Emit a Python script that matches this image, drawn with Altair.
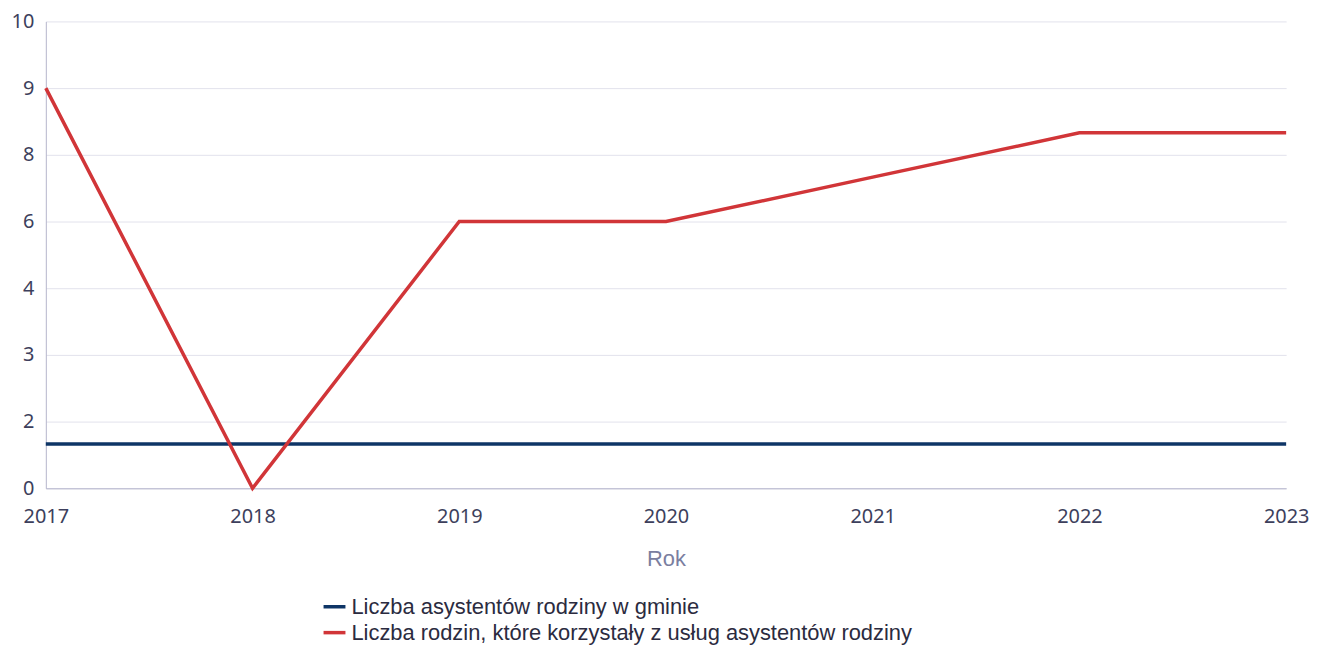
import altair as alt
import pandas as pd

years = [2017, 2018, 2019, 2020, 2021, 2022, 2023]
series_names = [
    "Liczba asystentów rodziny w gminie",
    "Liczba rodzin, które korzystały z usług asystentów rodziny",
]
assistants = [1.33, 1.33, 1.33, 1.33, 1.33, 1.33, 1.33]
families = [9, 0, 6, 6, 7.33, 8.33, 8.33]
y_ticks = [0, 2, 3, 4, 6, 8, 9, 10]
colors = ["#0e3566", "#d13538"]

rows = []
for y, a, f in zip(years, assistants, families):
    rows.append({"Rok": y, "Seria": series_names[0], "Wartość": a})
    rows.append({"Rok": y, "Seria": series_names[1], "Wartość": f})
df = pd.DataFrame(rows)

W, H = 1246, 469
n = len(y_ticks) - 1
y_range = [H - H * k / n for k in range(len(y_ticks))]

chart = (
    alt.Chart(df)
    .mark_line(strokeWidth=3.5)
    .encode(
        x=alt.X(
            "Rok:Q",
            scale=alt.Scale(domain=[2017, 2023], nice=False, zero=False),
            axis=alt.Axis(
                values=years, format="d", grid=False, ticks=False,
                labelFontSize=20, labelColor="#3d3f5c", labelFont="Noto Sans",
                labelPadding=18, domainColor="#b4b4cc",
                title="Rok", titleFontSize=22, titleColor="#7a7e9f",
                titleFont="Liberation Sans", titleFontWeight="normal",
                titlePadding=23, labelFlush=False,
            ),
        ),
        y=alt.Y(
            "Wartość:Q",
            scale=alt.Scale(domain=y_ticks, range=y_range, nice=False, zero=False),
            axis=alt.Axis(
                values=y_ticks, title=None, ticks=False,
                labelFontSize=20, labelColor="#3d3f5c", labelFont="Noto Sans",
                labelPadding=12, domainColor="#b4b4cc", gridColor="#e2e2ec",
            ),
        ),
        color=alt.Color(
            "Seria:N",
            scale=alt.Scale(domain=series_names, range=colors),
            legend=alt.Legend(
                title=None, orient="none", legendX=277, legendY=575,
                symbolType="stroke", symbolSize=484, symbolStrokeWidth=3.5,
                labelFontSize=22, labelFont="Liberation Sans", labelColor="#2b2b40",
                rowPadding=2, labelOffset=4, labelLimit=900,
            ),
        ),
    )
    .properties(
        width=W, height=H,
        autosize=alt.AutoSizeParams(type="none"),
        padding={"left": 38, "top": 12, "right": 30, "bottom": 170},
    )
    .configure_view(stroke=None)
)

chart.save("out.html", embed_options={"renderer": "svg", "actions": False})
